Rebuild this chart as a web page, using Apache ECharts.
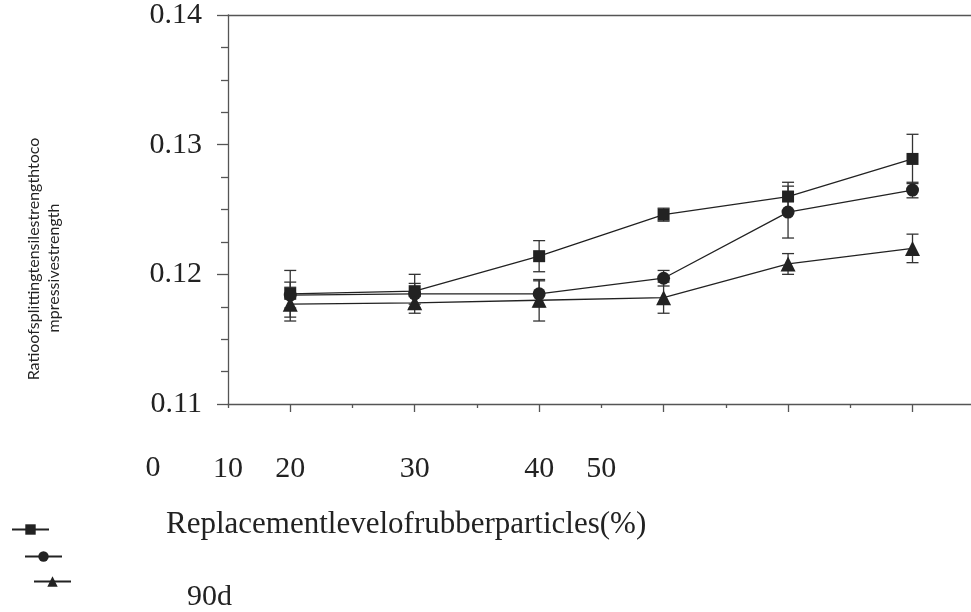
<!DOCTYPE html>
<html>
<head>
<meta charset="utf-8">
<script src="https://cdn.jsdelivr.net/npm/echarts@6/dist/echarts.min.js"></script>
<style>
  html, body { margin: 0; padding: 0; background: #fff; }
  #chart { width: 971px; height: 612px; }
</style>
</head>
<body>
<div id="chart"></div>
<script>
// replacement level of each measured point (%)
let levels = [0, 10, 20, 30, 40, 50];

let seriesNames = ['s1', 's2', '90d'];
let squareValues = [0.1185, 0.1187, 0.1214, 0.1246, 0.1260, 0.1289];
let squareErrors = [0.0018, 0.0013, 0.0012, 0.0005, 0.0011, 0.0019];
let circleValues = [0.1184, 0.1185, 0.1185, 0.1197, 0.1248, 0.1265];
let circleErrors = [0.0010, 0.0008, 0.0010, 0.0006, 0.0020, 0.0006];
let triangleValues = [0.1177, 0.1178, 0.1180, 0.1182, 0.1208, 0.1220];
let triangleErrors = [0.0013, 0.0008, 0.0016, 0.0012, 0.0008, 0.0011];

let xTickLabels = ['0', '10', '20', '30', '40', '50'];

let ink = '#222';
let axisGray = '#555';
let serif = '"Liberation Serif", "Times New Roman", serif';
let sans = '16px Lato, "Open Sans", sans-serif';

let chart = echarts.init(document.getElementById('chart'));

function lineSeries(name, values, symbol, size) {
    return {
        name: name,
        type: 'line',
        xAxisIndex: 0,
        data: levels.map((x, i) => [x, values[i]]),
        symbol: symbol,
        symbolSize: size,
        itemStyle: { color: ink },
        lineStyle: { color: ink, width: 1.3 },
        z: 3
    };
}

function errorSeries(values, errors) {
    return {
        type: 'custom',
        xAxisIndex: 0,
        data: levels.map((x, i) => [x, values[i] - errors[i], values[i] + errors[i]]),
        renderItem: function (params, api) {
            let lo = api.coord([api.value(0), api.value(1)]);
            let hi = api.coord([api.value(0), api.value(2)]);
            let w = 6;
            let style = { stroke: '#333', lineWidth: 1.3 };
            return {
                type: 'group',
                children: [
                    { type: 'line', shape: { x1: lo[0], y1: lo[1], x2: hi[0], y2: hi[1] }, style: style },
                    { type: 'line', shape: { x1: lo[0] - w, y1: lo[1], x2: lo[0] + w, y2: lo[1] }, style: style },
                    { type: 'line', shape: { x1: hi[0] - w, y1: hi[1], x2: hi[0] + w, y2: hi[1] }, style: style }
                ]
            };
        },
        z: 2
    };
}

// labels sit at odd places in the source figure
let xLabelAt = { '-5': xTickLabels[1], '0': xTickLabels[2], '10': xTickLabels[3], '20': xTickLabels[4], '25': xTickLabels[5] };

function legendAt(name, left, top) {
    return {
        data: [name],
        left: left,
        top: top,
        padding: 0,
        itemWidth: 37,
        itemHeight: 13,
        itemGap: 0,
        selectedMode: false,
        formatter: function () { return ''; },
        textStyle: { fontSize: 1 }
    };
}

let option = {
    backgroundColor: '#fff',
    animation: false,
    grid: { left: 228, right: 0, top: 11, bottom: 208 },
    xAxis: [{
        type: 'value',
        position: 'bottom',
        min: -5,
        max: 54.7,
        axisLine: { show: true, onZero: false, lineStyle: { color: axisGray, width: 1.3 } },
        axisTick: { show: true, customValues: levels, length: 8, lineStyle: { color: axisGray, width: 1.3 } },
        axisLabel: {
            show: true,
            customValues: [-5, 0, 10, 20, 25],
            formatter: function (v) { return xLabelAt[String(v)]; },
            margin: 50,
            fontFamily: serif,
            fontSize: 30,
            color: ink
        },
        splitLine: { show: false }
    }, {
        // minor ticks between the measured levels
        type: 'value',
        position: 'bottom',
        min: -5,
        max: 54.7,
        axisLine: { show: false, onZero: false },
        axisTick: { show: true, customValues: [-5, 5, 15, 25, 35, 45], length: 4, lineStyle: { color: axisGray, width: 1.3 } },
        axisLabel: { show: false },
        splitLine: { show: false }
    }, {
        // top frame line
        type: 'value',
        position: 'top',
        min: -5,
        max: 54.7,
        axisLine: { show: true, onZero: false, lineStyle: { color: axisGray, width: 1.3 } },
        axisTick: { show: false },
        axisLabel: { show: false },
        splitLine: { show: false }
    }],
    yAxis: {
        type: 'value',
        min: 0.11,
        max: 0.14,
        interval: 0.01,
        axisLine: { show: true, onZero: false, lineStyle: { color: axisGray, width: 1.3 } },
        axisTick: { show: true, length: 11, lineStyle: { color: axisGray, width: 1.3 } },
        minorTick: { show: true, splitNumber: 4, length: 7, lineStyle: { color: axisGray, width: 1.3 } },
        axisLabel: {
            margin: 26,
            fontFamily: serif,
            fontSize: 30,
            color: ink,
            formatter: function (v) { return v.toFixed(2); }
        },
        splitLine: { show: false }
    },
    legend: [
        legendAt(seriesNames[0], 11, 523),
        legendAt(seriesNames[1], 24, 550),
        legendAt(seriesNames[2], 33, 575)
    ],
    graphic: [{
        type: 'text',
        x: 153,
        y: 468,
        style: { text: xTickLabels[0], font: '30px ' + serif, fill: ink, align: 'center', verticalAlign: 'middle' }
    }, {
        type: 'text',
        x: 166,
        y: 525,
        style: { text: 'Replacementlevelofrubberparticles(%)', font: '31px ' + serif, fill: ink, verticalAlign: 'middle' }
    }, {
        type: 'text',
        x: 187,
        y: 597,
        style: { text: '90d', font: '30px ' + serif, fill: ink, verticalAlign: 'middle' }
    }, {
        type: 'text',
        x: 34,
        y: 259,
        rotation: Math.PI / 2,
        style: {
            text: 'Ratioofsplittingtensilestrengthtoco',
            font: sans,
            fill: ink,
            align: 'center',
            verticalAlign: 'middle'
        }
    }, {
        type: 'text',
        x: 54,
        y: 268,
        rotation: Math.PI / 2,
        style: {
            text: 'mpressivestrength',
            font: sans,
            fill: ink,
            align: 'center',
            verticalAlign: 'middle'
        }
    }],
    series: [
        errorSeries(squareValues, squareErrors),
        errorSeries(circleValues, circleErrors),
        errorSeries(triangleValues, triangleErrors),
        lineSeries(seriesNames[0], squareValues, 'rect', 12),
        lineSeries(seriesNames[1], circleValues, 'circle', 13),
        lineSeries(seriesNames[2], triangleValues, 'triangle', 15)
    ]
};

chart.setOption(option);
</script>
</body>
</html>
